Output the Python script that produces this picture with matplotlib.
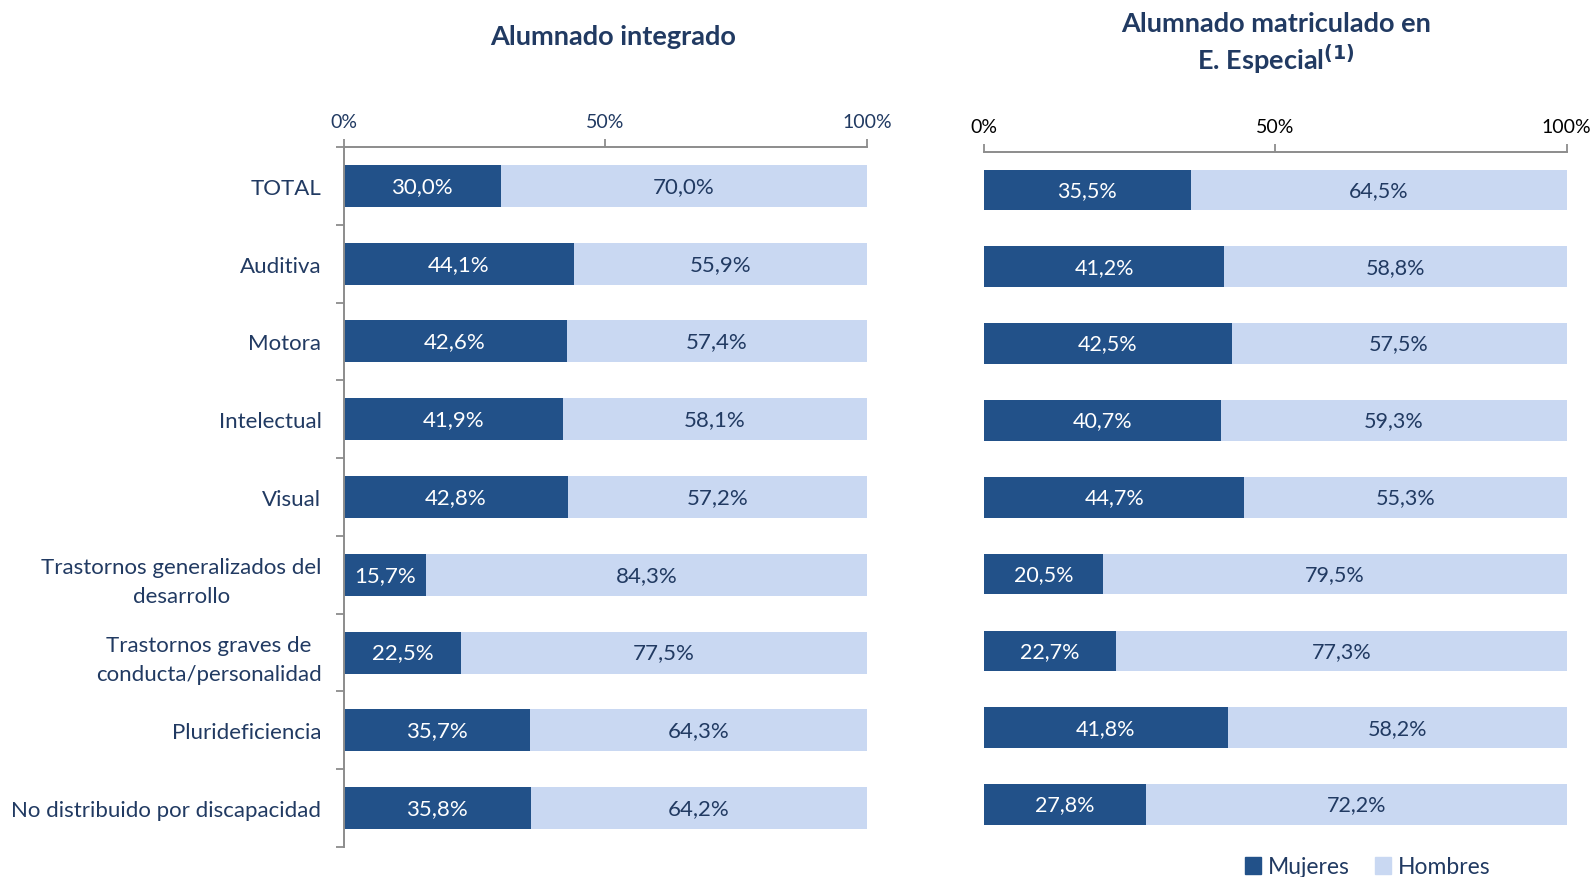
import numpy as np
import matplotlib
matplotlib.use("Agg")
import matplotlib.pyplot as plt
from matplotlib.patches import Patch

plt.rcParams["font.family"] = ["Lato", "DejaVu Sans"]

categories = ["TOTAL", "Auditiva", "Motora", "Intelectual", "Visual",
              "Trastornos generalizados del\ndesarrollo",
              "Trastornos graves de\nconducta/personalidad",
              "Plurideficiencia", "No distribuido por discapacidad"]

integ_mujeres = [30.0, 44.1, 42.6, 41.9, 42.8, 15.7, 22.5, 35.7, 35.8]
integ_hombres = [70.0, 55.9, 57.4, 58.1, 57.2, 84.3, 77.5, 64.3, 64.2]
espec_mujeres = [35.5, 41.2, 42.5, 40.7, 44.7, 20.5, 22.7, 41.8, 27.8]
espec_hombres = [64.5, 58.8, 57.5, 59.3, 55.3, 79.5, 77.3, 58.2, 72.2]

DARK = "#225189"
LIGHT = "#C9D8F2"
NAVY = "#213A62"
GREY = "#8C8C8C"
W, H = 1594, 878


def pct(v):
    return f"{v:.1f}%".replace(".", ",")


def draw_panel(ax, muj, hom, fs, tick_color, bar_h):
    y = np.arange(len(muj))
    ax.barh(y, muj, height=bar_h, color=DARK, label="Mujeres")
    ax.barh(y, hom, left=muj, height=bar_h, color=LIGHT, label="Hombres")
    for yi, m, h in zip(y, muj, hom):
        ax.text(m / 2, yi, pct(m), ha="center", va="center", color="white", fontsize=fs)
        ax.text(m + h / 2, yi, pct(h), ha="center", va="center", color=NAVY, fontsize=fs)
    ax.set_xlim(0, 100)
    ax.set_ylim(len(muj) - 0.5, -0.5)
    ax.xaxis.tick_top()
    ax.set_xticks([0, 50, 100])
    ax.set_xticklabels(["0%", "50%", "100%"])
    ax.tick_params(axis="x", colors=GREY, labelcolor=tick_color, labelsize=14,
                   length=6, width=1.3, pad=6)
    for s in ("right", "bottom"):
        ax.spines[s].set_visible(False)
    ax.spines["top"].set_color(GREY)
    ax.spines["top"].set_linewidth(1.4)


fig = plt.figure(figsize=(W / 100, H / 100), dpi=100)

ax1 = fig.add_axes([343.6 / W, 1 - 848 / H, (867 - 343.6) / W, 700 / H])
draw_panel(ax1, integ_mujeres, integ_hombres, 16, NAVY, 0.54)
ax1.spines["left"].set_color(GREY)
ax1.spines["left"].set_linewidth(1.4)
ax1.set_yticks(np.arange(len(categories)))
ax1.set_yticklabels(categories, fontsize=16, color=NAVY, multialignment="center",
                    linespacing=1.6)
ax1.tick_params(axis="y", which="major", length=0, pad=16)
ax1.set_yticks(np.arange(len(categories) + 1) - 0.5, minor=True)
ax1.tick_params(axis="y", which="minor", length=6, width=1.3, color=GREY)

ax2 = fig.add_axes([984 / W, 1 - 844 / H, (1566.6 - 984) / W, 691.5 / H])
draw_panel(ax2, espec_mujeres, espec_hombres, 15.5, "black", 0.53)
ax2.spines["left"].set_visible(False)
ax2.set_yticks([])

fig.text(613 / W, 1 - 37 / H, "Alumnado integrado", ha="center", va="center",
         fontsize=19.5, fontweight="bold", color=NAVY)
fig.text(1276 / W, 1 - 24 / H, "Alumnado matriculado en", ha="center", va="center",
         fontsize=19.5, fontweight="bold", color=NAVY)
fig.text(1276 / W, 1 - 60 / H, r"E. Especial$^{\mathbf{(1)}}$", ha="center", va="center",
         fontsize=19.5, fontweight="bold", color=NAVY)

handles = [Patch(color=DARK, label="Mujeres"), Patch(color=LIGHT, label="Hombres")]
fig.legend(handles=handles, loc="center", bbox_to_anchor=(1368 / W, 1 - 868 / H),
           ncol=2, frameon=False, fontsize=16.5, handlelength=0.7, handleheight=0.7,
           handletextpad=0.3, columnspacing=1.1, labelcolor=NAVY)

fig.savefig("out.png", dpi=100)
